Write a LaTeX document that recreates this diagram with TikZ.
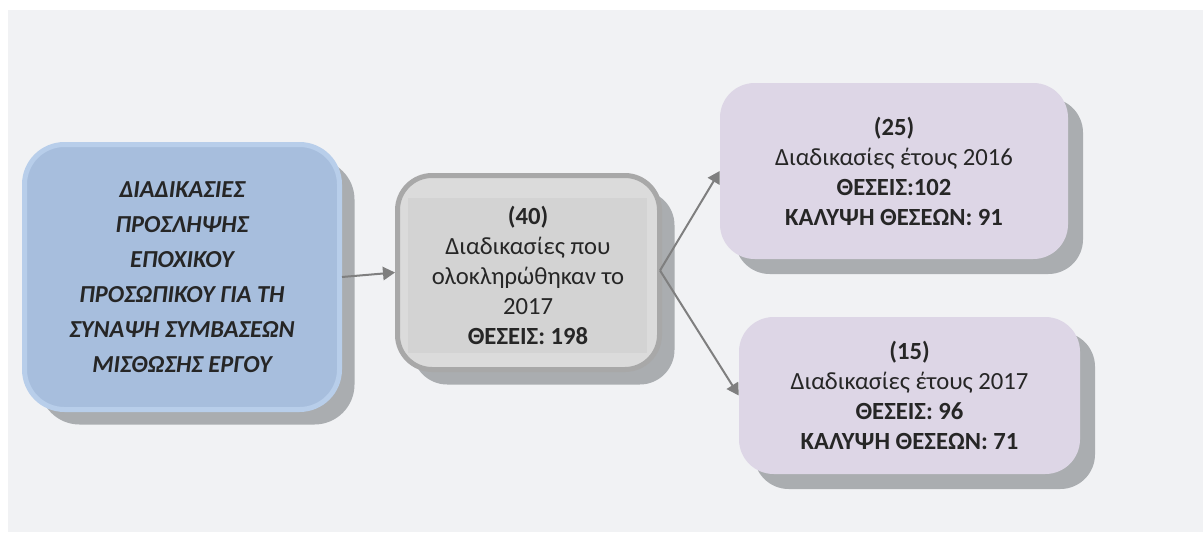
\documentclass[tikz,border=0pt]{standalone}
\usepackage{fontspec}
\setmainfont{Carlito}
\usetikzlibrary{shadows,arrows.meta,calc}
\definecolor{bgc}{HTML}{F1F2F4}
\definecolor{shadc}{HTML}{AAADB0}
\definecolor{bluef}{HTML}{A7BEDD}
\definecolor{blueb}{HTML}{B8CEEA}
\definecolor{grayf}{HTML}{DBDBDB}
\definecolor{grayin}{HTML}{D3D3D3}
\definecolor{grayb}{HTML}{A8A8A8}
\definecolor{lilac}{HTML}{DDD6E6}
\definecolor{txt}{HTML}{262626}
\definecolor{arr}{HTML}{7F7F7F}
\tikzset{
  shad/.style={drop shadow={shadow xshift=11.25pt, shadow yshift=-11.25pt, fill=shadc, opacity=1}},
  boxtext/.style={text=txt, align=center, font=\fontsize{18.5}{22.5}\selectfont},
  leftbox/.style={shad, draw=blueb, line width=3.75pt, fill=bluef, rounded corners=30pt,
    minimum width=236.25pt, minimum height=198.75pt, boxtext, font=\fontsize{18.3}{26.25}\selectfont\bfseries\itshape},
  midbox/.style={shad, draw=grayb, line width=3.75pt, fill=grayf, rounded corners=26pt,
    minimum width=196.5pt, minimum height=145.5pt},
  rbox/.style={shad, fill=lilac, rounded corners=26pt, boxtext},
  conn/.style={draw=arr, line width=1.5pt, -{Triangle[length=9pt,width=10pt]}}
}
\begin{document}
\begin{tikzpicture}[x=0.75pt,y=-0.75pt]
\fill[white] (0,0) rectangle (1203,532);
\fill[bgc] (8,10) rectangle (1203,532);
\useasboundingbox (0,0) rectangle (1203,532);

\node[leftbox] (a) at (182,277) {ΔΙΑΔΙΚΑΣΙΕΣ\\ΠΡΟΣΛΗΨΗΣ\\ΕΠΟΧΙΚΟΥ\\ΠΡΟΣΩΠΙΚΟΥ ΓΙΑ ΤΗ\\ΣΥΝΑΨΗ ΣΥΜΒΑΣΕΩΝ\\ΜΙΣΘΩΣΗΣ ΕΡΓΟΥ};

\node[midbox] (b) at (528.5,272.5) {};
\node[fill=grayin, minimum width=179.25pt, minimum height=116.25pt, inner sep=0pt] (bin) at (527.5,275.5) {};
\node[boxtext] (bt) at (528,275) {\textbf{(40)}\\Διαδικασίες που\\ολοκληρώθηκαν το\\2017\\\textbf{ΘΕΣΕΙΣ: 198}};

\node[rbox, minimum width=261pt, minimum height=132pt] (c) at (894,171) {\textbf{(25)}\\Διαδικασίες έτους 2016\\\textbf{ΘΕΣΕΙΣ:102}\\\textbf{ΚΑΛΥΨΗ ΘΕΣΕΩΝ: 91}};

\node[rbox, minimum width=255.75pt, minimum height=117.75pt] (d) at (909.5,395.5) {\textbf{(15)}\\Διαδικασίες έτους 2017\\\textbf{ΘΕΣΕΙΣ: 96}\\\textbf{ΚΑΛΥΨΗ ΘΕΣΕΩΝ: 71}};

\coordinate (bo) at ($(b.east)+(-1.5pt,1.5pt)$);
\draw[conn] (a.east) -- (b.west);
\draw[conn] (bo) -- (c.west);
\draw[conn] (bo) -- (d.west);
\end{tikzpicture}
\end{document}
